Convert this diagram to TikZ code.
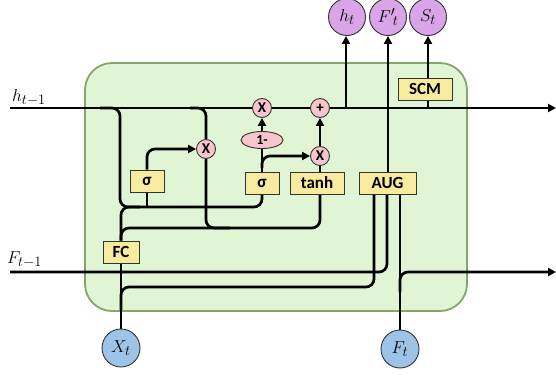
\documentclass[tikz,border=0pt]{standalone}
\usepackage{fontspec}
\newfontfamily\boxfont{Carlito}
\usetikzlibrary{arrows.meta,shapes.geometric}
\pgfdeclarelayer{bg}\pgfsetlayers{bg,main}
\DeclareMathSizes{18}{18}{13.5}{10}
\DeclareMathSizes{19}{19}{14}{10}
\definecolor{cellfill}{HTML}{E0F5D3}
\definecolor{celldraw}{HTML}{84A667}
\definecolor{boxfill}{HTML}{F7EBA0}
\definecolor{opfill}{HTML}{F6C6CC}
\definecolor{outfill}{HTML}{D9A5E8}
\definecolor{infill}{HTML}{9DC3E6}
\tikzset{
  wire/.style={line width=2.7pt,rounded corners=8pt},
  arr/.style={wire,-{Triangle[length=8pt,width=8pt]}},
  layer/.style={draw=black!80,line width=0.9pt,fill=boxfill,minimum height=22pt,inner sep=0pt,
    font=\boxfont\bfseries\fontsize{17}{19}\selectfont},
  op/.style={circle,draw=black!80,line width=0.9pt,fill=opfill,minimum size=19pt,inner sep=0pt,
    font=\boxfont\bfseries\fontsize{15}{17}\selectfont},
  outc/.style={circle,draw=black!80,line width=0.9pt,fill=outfill,minimum size=37pt,inner sep=0pt,
    font=\fontsize{19}{22}\selectfont},
  inc/.style={circle,draw=black!80,line width=0.9pt,fill=infill,minimum size=38pt,inner sep=0pt,
    font=\fontsize{19}{22}\selectfont},
  lbl/.style={inner sep=0pt,font=\fontsize{18}{21}\selectfont},
}
\begin{document}
\begin{tikzpicture}[x=1pt,y=-1pt]
\useasboundingbox (0,0) rectangle (556,375);

% nodes
\node[layer,minimum width=34pt] (s1) at (147,181) {σ};
\node[layer,minimum width=34pt] (s2) at (262,183) {σ};
\node[layer,minimum width=54pt] (tanh) at (317,183) {tanh};
\node[layer,minimum width=57pt] (aug) at (387.5,183) {AUG};
\node[layer,minimum width=54pt] (scm) at (425,89) {SCM};
\node[layer,minimum width=36pt] (fc) at (121,252) {FC};
\node[op] (x1) at (262,108) {X};
\node[op] (plus) at (320,108) {+};
\node[op] (x2) at (206,149) {X};
\node[op] (x3) at (320,156) {X};
\node[ellipse,draw=black!80,line width=0.9pt,fill=opfill,minimum width=42pt,minimum height=17pt,inner sep=0pt,
  font=\boxfont\bfseries\fontsize{14}{16}\selectfont] (om) at (262,140) {1-};
\node[outc] (ht) at (347,17) {$h_t$};
\node[outc] (fpt) at (388,17) {${F'}_{\!t}$};
\node[outc] (st) at (428,17) {$S_t$};
\node[inc] (xt) at (121,348) {$X_t$};
\node[inc] (ft) at (400,349) {$F_t$};
\node[lbl,anchor=base west] (hlab) at (12,101) {$h_{t-1}$};
\node[lbl,anchor=base west] (flab) at (7,263) {$F_{t-1}$};

% coordinates
\coordinate (hin) at (10,108);
\coordinate (hout) at (556,108);
\coordinate (fin) at (10,272);
\coordinate (fout) at (556,272);

\begin{pgfonlayer}{bg}
\draw[fill=cellfill,draw=celldraw,line width=1.8pt,rounded corners=27pt] (85,63) rectangle (467,311);
\draw[arr] (hin) -- (hout);
\draw[wire] (100,108) -- (120,108) -- (120,207) -- (140,207);
\draw[wire] (fc.north) -- (121,207) -- (262,207) -- (s2.south);
\draw[wire] (fc.north) -- (121,228) -- (320,228) -- (tanh.south -| 320,0);
\draw[wire] (x2.south) -- (206,228) -- (230,228);
\draw[wire] (190,108) -- (206,108) -- (x2.north);
\draw[arr] (s1.north) -- (147,149) -- (x2.west);
\draw[wire] (s1.south) -- (147,207);
\draw[wire] (s2.north) -- (om.south);
\draw[arr] (262,168) -- (262,156) -- (x3.west);
\draw[arr] (om.north) -- (x1.south);
\draw[wire] (tanh.north -| x3) -- (x3.south);
\draw[arr] (x3.north) -- (plus.south);
\draw[arr] (346,108) -- (ht.south -| 346,0);
\draw[arr] (aug.north -| fpt) -- (fpt.south);
\draw[wire] (428,108) -- (scm.south -| 428,0);
\draw[arr] (scm.north -| st) -- (st.south);
\draw[wire] (fin) -- (387,272) -- (aug.south -| 387,0);
\draw[wire] (xt.north) -- (fc.south);
\draw[wire] (121,310) -- (121,287) -- (374,287) -- (aug.south -| 374,0);
\draw[wire] (ft.north) -- (aug.south -| ft);
\draw[arr] (400,292) -- (400,272) -- (fout);
\end{pgfonlayer}
\end{tikzpicture}
\end{document}
